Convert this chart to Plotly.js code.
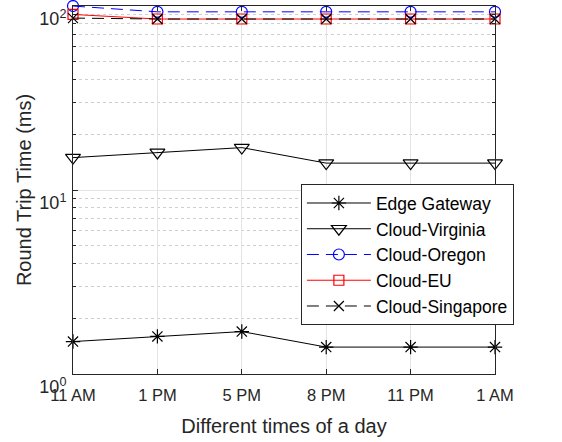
<!DOCTYPE html>
<html><head><meta charset="utf-8">
<script src="https://cdn.plot.ly/plotly-3.0.1.min.js"></script>
<style>html,body{margin:0;padding:0;background:#fff}#c{width:562px;height:442px}</style>
</head><body><div id="c"></div>
<script>
const categories = ["11 AM","1 PM","5 PM","8 PM","11 PM","1 AM"];
const edgeGateway = [1.5, 1.6, 1.7, 1.4, 1.4, 1.4];
const cloudVirginia = [15, 16, 17, 14, 14, 14];
const cloudOregon = [100, 93, 93, 93, 93, 93];
const cloudEU = [90, 85, 85, 85, 85, 85];
const cloudSingapore = [86, 85, 85, 85, 85, 85];
const yTickVals = [1, 10, 100];
const yTickText = ["10<sup>0</sup>","10<sup>1</sup>","10<sup>2</sup>"];

const xIdx = categories.map((_, i) => i);
function tr(name, y, color, dash, symbol, size) {
  return {x: xIdx, y: y, name: name, legendgroup: name, type: 'scatter', mode: 'lines+markers', cliponaxis: false,
    line: {color: color, width: 1, dash: dash},
    marker: {symbol: symbol, size: size, color: color, line: {color: color, width: 1.2}}};
}
const data = [
  tr('Edge Gateway', edgeGateway, '#000', 'solid', 'asterisk-open', 12),
  tr('Cloud-Virginia', cloudVirginia, '#000', 'solid', 'triangle-down-open', 13),
  tr('Cloud-Oregon', cloudOregon, '#0000ff', '12px,7px', 'circle-open', 11),
  tr('Cloud-EU', cloudEU, '#ff0000', 'solid', 'square-open', 10),
  tr('Cloud-Singapore', cloudSingapore, '#000', '12px,7px', 'x-thin-open', 10)
];
const layout = {
  width: 562, height: 442,
  margin: {l: 73, r: 67, t: 6, b: 68},
  paper_bgcolor: '#fff', plot_bgcolor: '#fff',
  font: {family: 'Liberation Sans, Arial, sans-serif', color: '#262626', size: 16},
  showlegend: true,
  legend: {x: 0.54, y: 0.516, xanchor: 'left', yanchor: 'top',
    bgcolor: '#fff', bordercolor: '#262626', borderwidth: 1,
    font: {size: 17.5, color: '#000'}, itemwidth: 64, tracegroupgap: 0},
  xaxis: {
    range: [0, 5], tickvals: xIdx, ticktext: categories,
    showline: true, mirror: 'ticks', linecolor: '#262626', linewidth: 1,
    ticks: 'inside', ticklen: 5, tickcolor: '#262626',
    showgrid: true, gridcolor: '#e3e3e3', zeroline: false,
    tickfont: {size: 16.5}, ticklabelstandoff: 6,
    title: {text: 'Different times of a day', font: {size: 20}, standoff: 16}
  },
  yaxis: {
    type: 'log', range: [-0.0002, 2.0002], tickvals: yTickVals, ticktext: yTickText,
    showline: true, mirror: 'ticks', linecolor: '#262626', linewidth: 1,
    ticks: 'inside', ticklen: 5, tickcolor: '#262626',
    showgrid: true, gridcolor: '#e3e3e3', zeroline: false,
    tickfont: {size: 18}, ticklabelstandoff: 2, ticklabeloverflow: 'allow',
    ticklabelposition: 'outside bottom',
    minor: {showgrid: true, gridcolor: '#cfcfcf', griddash: 'dot', gridwidth: 1, ticks: 'inside', ticklen: 3, tickcolor: '#262626', dtick: 'D1'},
    title: {text: 'Round Trip Time (ms)', font: {size: 20}, standoff: 2}
  }
};
Plotly.newPlot('c', data, layout, {displayModeBar: false, staticPlot: true});
</script></body></html>
